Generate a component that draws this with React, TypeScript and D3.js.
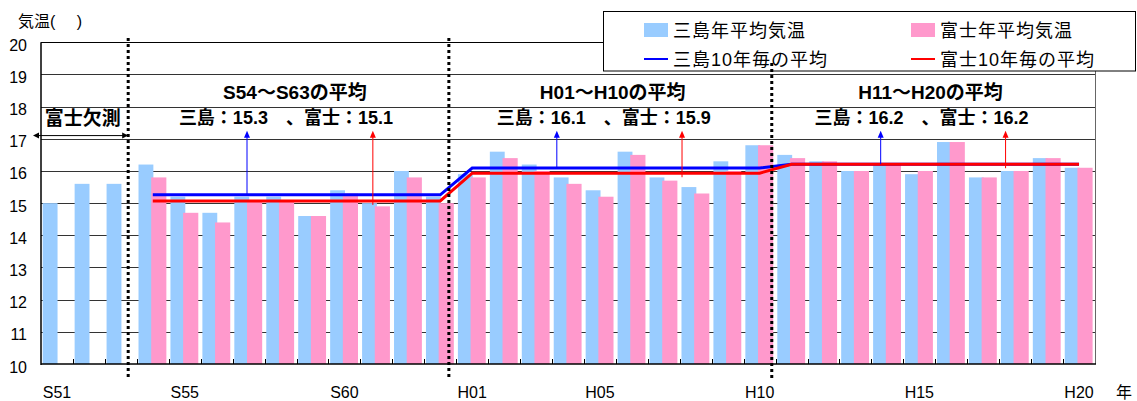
import React from "react";
import * as d3 from "d3";

const categories = [
  "S51","S52","S53","S54","S55","S56","S57","S58","S59","S60","S61","S62","S63",
  "H01","H02","H03","H04","H05","H06","H07","H08","H09","H10",
  "H11","H12","H13","H14","H15","H16","H17","H18","H19","H20",
];
const xTickLabels = ["S51","S55","S60","H01","H05","H10","H15","H20"];
const yTicks = [10,11,12,13,14,15,16,17,18,19,20];

const mishima = [
  15.0,15.6,15.6,16.2,15.2,14.7,15.2,15.2,14.6,15.4,15.0,16.0,15.2,
  15.9,16.6,16.2,15.8,15.4,16.6,15.8,15.5,16.3,16.8,
  16.5,16.3,16.0,16.2,15.9,16.9,15.8,16.0,16.4,16.1,
];
const fuji: (number | null)[] = [
  null,null,null,15.8,14.7,14.4,15.1,15.1,14.6,15.3,14.9,15.8,15.0,
  15.8,16.4,16.0,15.6,15.2,16.5,15.7,15.3,16.0,16.8,
  16.4,16.3,16.0,16.2,16.0,16.9,15.8,16.0,16.4,16.1,
];
const mishimaAvg: (number | null)[] = [
  null,null,null,15.26,15.26,15.26,15.26,15.26,15.26,15.26,15.26,15.26,15.26,
  16.09,16.09,16.09,16.09,16.09,16.09,16.09,16.09,16.09,16.09,
  16.21,16.21,16.21,16.21,16.21,16.21,16.21,16.21,16.21,16.21,
];
const fujiAvg: (number | null)[] = [
  null,null,null,15.07,15.07,15.07,15.07,15.07,15.07,15.07,15.07,15.07,15.07,
  15.93,15.93,15.93,15.93,15.93,15.93,15.93,15.93,15.93,15.93,
  16.21,16.21,16.21,16.21,16.21,16.21,16.21,16.21,16.21,16.21,
];

// annotation texts (periods)
const periodTitles = ["S54～S63の平均", "H01～H10の平均", "H11～H20の平均"];
const periodValues = ["三島：15.3　、富士：15.1", "三島：16.1　、富士：15.9", "三島：16.2　、富士：16.2"];
// positions in category units
const periodCenters = [7.95, 17.9, 27.85];
const blueArrowPos = [6.45, 16.15, 26.29];
const redArrowPos = [10.39, 20.07, 30.2];
const separatorPos = [2.73, 12.77, 22.88];

const legendItems = [
  { label: "三島年平均気温", kind: "bar", color: "#99CCFF" },
  { label: "富士年平均気温", kind: "bar", color: "#FF99CC" },
  { label: "三島10年毎の平均", kind: "line", color: "#0000FF" },
  { label: "富士10年毎の平均", kind: "line", color: "#FF0000" },
];

const FONT = "'Liberation Sans', Arial, 'Noto Sans CJK JP', sans-serif";

export default function App() {
  const W = 1137, H = 401;
  const left = 41, right = 1095, top = 42.3, bottom = 364;
  const x = d3.scaleBand<string>().domain(categories).range([left, right]).padding(0);
  const step = x.step();
  const xu = d3.scaleLinear().domain([0, categories.length]).range([left, right]);
  const y = d3.scaleLinear().domain([10, 20]).range([bottom, top]);
  const cx = (i: number) => (x(categories[i]) as number) + step / 2;

  const lineGen = d3
    .line<number | null>()
    .defined((d) => d != null)
    .x((_, i) => cx(i))
    .y((d) => y(d as number));

  const arrowTopV = 17.25;
  const arrowHead = (ax: number, ay: number, color: string) => (
    <path d={`M${ax},${ay} L${ax - 3},${ay + 7} L${ax + 3},${ay + 7} Z`} fill={color} />
  );

  return (
    <svg width={W} height={H} style={{ position: "fixed", left: 0, top: 0, background: "#fff" }} fontFamily={FONT}>
      <rect x={0} y={0} width={W} height={H} fill="#fff" />
      {/* gridlines */}
      {yTicks.filter((t) => t > 10 && t < 20).map((t) => (
        <line key={t} x1={left} x2={right} y1={Math.round(y(t)) + 0.5} y2={Math.round(y(t)) + 0.5} stroke="#333" strokeWidth={1} />
      ))}
      {/* bars */}
      {categories.map((c, i) => (
        <g key={c}>
          <rect x={(x(c) as number) + step * 0.053} width={step * 0.465} y={y(mishima[i])} height={bottom - y(mishima[i])} fill="#99CCFF" />
          {fuji[i] != null && (
            <rect x={(x(c) as number) + step * 0.45} width={step * 0.475} y={y(fuji[i] as number)} height={bottom - y(fuji[i] as number)} fill="#FF99CC" />
          )}
        </g>
      ))}
      {/* frame */}
      <line x1={left} x2={right} y1={Math.round(top) + 0.5} y2={Math.round(top) + 0.5} stroke="#000" />
      <line x1={right + 0.5} x2={right + 0.5} y1={top} y2={bottom} stroke="#666" />
      <line x1={left} x2={left} y1={top} y2={bottom + 1} stroke="#000" strokeWidth={1.5} />
      <line x1={left} x2={right + 1} y1={bottom} y2={bottom} stroke="#000" strokeWidth={1.5} />
      {/* x ticks inside */}
      {categories.slice(1).map((c) => (
        <line key={c} x1={Math.round(x(c) as number) + 0.5} x2={Math.round(x(c) as number) + 0.5} y1={bottom - 5} y2={bottom} stroke="#000" />
      ))}
      {/* average lines */}
      <path d={lineGen(mishimaAvg) || ""} fill="none" stroke="#0000FF" strokeWidth={3} />
      <path d={lineGen(fujiAvg) || ""} fill="none" stroke="#FF0000" strokeWidth={3} />
      {/* arrows */}
      {blueArrowPos.map((u, k) => {
        const ax = xu(u);
        const idx = 3 + k * 10;
        return (
          <g key={"b" + k}>
            <line x1={ax} x2={ax} y1={y(mishimaAvg[idx] as number)} y2={y(arrowTopV) + 3} stroke="#0000FF" strokeWidth={1} />
            {arrowHead(ax, y(arrowTopV), "#0000FF")}
          </g>
        );
      })}
      {redArrowPos.map((u, k) => {
        const ax = xu(u);
        const idx = 3 + k * 10;
        return (
          <g key={"r" + k}>
            <line x1={ax} x2={ax} y1={y(fujiAvg[idx] as number) + 4} y2={y(arrowTopV) + 3} stroke="#FF0000" strokeWidth={1} />
            {arrowHead(ax, y(arrowTopV), "#FF0000")}
          </g>
        );
      })}
      {/* period annotations */}
      {periodTitles.map((t, k) => (
        <text key={"t" + k} x={xu(periodCenters[k])} y={99} textAnchor="middle" fontSize={19} fontWeight="bold" fill="#000">{t}</text>
      ))}
      {periodValues.map((t, k) => (
        <text key={"v" + k} x={xu(periodCenters[k]) - 9} y={124} textAnchor="middle" fontSize={18} fontWeight="bold" fill="#000">{t}</text>
      ))}
      {/* Fuji missing annotation */}
      <text x={xu(0.12)} y={125} fontSize={19} fontWeight="bold" fill="#000">富士欠測</text>
      <line x1={xu(-0.25) + 5} x2={xu(separatorPos[0]) - 5} y1={y(17.1)} y2={y(17.1)} stroke="#000" strokeWidth={1} />
      <path d={`M${xu(-0.25)},${y(17.1)} l6,-3 l0,6 Z`} fill="#000" />
      <path d={`M${xu(separatorPos[0])},${y(17.1)} l-6,-3 l0,6 Z`} fill="#000" />
      {/* y ticks */}
      {yTicks.map((t) => (
        <text key={t} x={27} y={y(t) + 8.5} textAnchor="end" fontSize={16} fill="#000">{t}</text>
      ))}
      <text x={18} y={27} fontSize={16} fill="#000" style={{ whiteSpace: "pre" }}>{"気温(\u3000\u2004)"}</text>
      {/* x labels */}
      {xTickLabels.map((l) => (
        <text key={l} x={(x(l) as number) + step / 2} y={398} textAnchor="middle" fontSize={16} fill="#000">{l}</text>
      ))}
      <text x={1116} y={398} fontSize={16} fill="#000">年</text>
      {/* separators */}
      {separatorPos.slice(0, 2).map((u, k) => (
        <line key={"s" + k} x1={xu(u)} x2={xu(u)} y1={38} y2={380} stroke="#000" strokeWidth={3} strokeDasharray="3 3" />
      ))}
      {/* legend */}
      <rect x={603.5} y={11.5} width={532} height={59.5} fill="#fff" stroke="#000" strokeWidth={1} />
      {legendItems.map((it, k) => {
        const col = k % 2, row = Math.floor(k / 2);
        const lx = col === 0 ? 644 : 911;
        const ly = row === 0 ? 30 : 59;
        return (
          <g key={it.label}>
            {it.kind === "bar" ? (
              <rect x={lx} y={ly - 7} width={24} height={14} fill={it.color} />
            ) : (
              <line x1={lx} x2={lx + 24} y1={ly} y2={ly} stroke={it.color} strokeWidth={2} />
            )}
            <text x={lx + 29} y={ly + 7} fontSize={18} fill="#000" letterSpacing={1}>{it.label}</text>
          </g>
        );
      })}
      <line x1={xu(separatorPos[2])} x2={xu(separatorPos[2])} y1={63} y2={380} stroke="#000" strokeWidth={3} strokeDasharray="3 3" />
    </svg>
  );
}
